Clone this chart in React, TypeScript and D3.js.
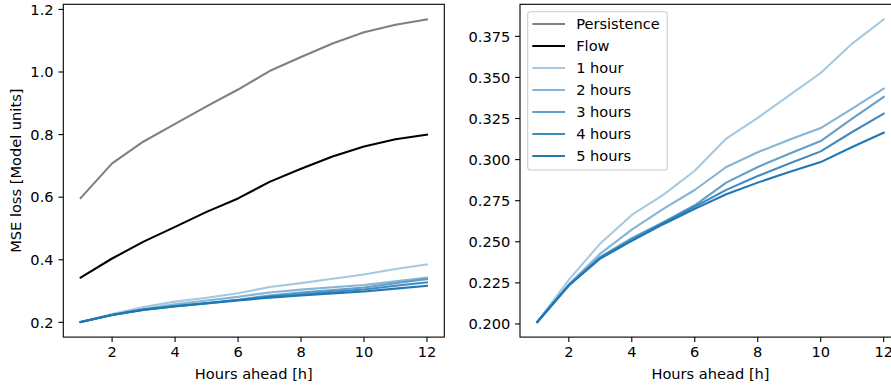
import React from "react";
import * as d3 from "d3";

const hours = [1, 2, 3, 4, 5, 6, 7, 8, 9, 10, 11, 12];
const persistence = [0.597, 0.708, 0.778, 0.834, 0.890, 0.944, 1.003, 1.048, 1.091, 1.127, 1.151, 1.168];
const flow = [0.343, 0.404, 0.458, 0.505, 0.553, 0.596, 0.649, 0.691, 0.730, 0.762, 0.785, 0.800];
const h1 = [0.2012, 0.2268, 0.2490, 0.2663, 0.2785, 0.2932, 0.3128, 0.3254, 0.3391, 0.3527, 0.3706, 0.3853];
const h2 = [0.2012, 0.2241, 0.2428, 0.2574, 0.2700, 0.2815, 0.2955, 0.3045, 0.3121, 0.3192, 0.3310, 0.3432];
const h3 = [0.2012, 0.2236, 0.2408, 0.2522, 0.2620, 0.2722, 0.2860, 0.2955, 0.3036, 0.3113, 0.3249, 0.3381];
const h4 = [0.2012, 0.2235, 0.2402, 0.2512, 0.2613, 0.2713, 0.2816, 0.2900, 0.2976, 0.3050, 0.3168, 0.3280];
const h5 = [0.2012, 0.2234, 0.2398, 0.2505, 0.2607, 0.2700, 0.2789, 0.2860, 0.2925, 0.2985, 0.3077, 0.3164];

const seriesNames = ["Persistence", "Flow", "1 hour", "2 hours", "3 hours", "4 hours", "5 hours"];
const seriesValues = [persistence, flow, h1, h2, h3, h4, h5];
const seriesColors = ["#808080", "#000000", "#1f77b4", "#1f77b4", "#1f77b4", "#1f77b4", "#1f77b4"];
const seriesOpacity = [1, 1, 0.4, 0.55, 0.7, 0.85, 1];

const xTicks = [2, 4, 6, 8, 10, 12];
const leftYTicks = [0.2, 0.4, 0.6, 0.8, 1.0, 1.2];
const rightYTicks = [0.2, 0.225, 0.25, 0.275, 0.3, 0.325, 0.35, 0.375];

const FONT = "DejaVu Sans";
const FS = 14.6;
const CAP = FS * 0.729;
const TICK = 4.86;
const PAD = 4.86;

function padded(lo: number, hi: number): [number, number] {
  const m = (hi - lo) * 0.05;
  return [lo - m, hi + m];
}

type PanelProps = {
  id: string;
  left: number;
  right: number;
  top: number;
  bottom: number;
  seriesIdx: number[];
  domainIdx: number[];
  yTicks: number[];
  yFmt: (v: number) => string;
  yLabel?: string;
  legend?: boolean;
};

function Panel(p: PanelProps) {
  const xDom = padded(d3.min(hours)!, d3.max(hours)!);
  const x = d3.scaleLinear().domain(xDom).range([p.left, p.right]);
  const allVals = p.domainIdx.flatMap((i) => seriesValues[i]);
  const yDom = padded(d3.min(allVals)!, d3.max(allVals)!);
  const y = d3.scaleLinear().domain(yDom).range([p.bottom, p.top]);
  const line = d3
    .line<number>()
    .x((_, i) => x(hours[i]))
    .y((v) => y(v));
  const w = p.right - p.left;
  const h = p.bottom - p.top;
  const legendX = p.left + 7.7;
  const legendY = p.top + 7.4;
  const rowH = 22;
  return (
    <g>
      <defs>
        <clipPath id={p.id}>
          <rect x={p.left} y={p.top} width={w} height={h} />
        </clipPath>
      </defs>
      <g clipPath={`url(#${p.id})`}>
        {p.seriesIdx.map((i) => (
          <path
            key={i}
            d={line(seriesValues[i]) || ""}
            fill="none"
            stroke={seriesColors[i]}
            strokeOpacity={seriesOpacity[i]}
            strokeWidth={2.08}
            strokeLinejoin="round"
            strokeLinecap="square"
          />
        ))}
      </g>
      <rect x={p.left} y={p.top} width={w} height={h} fill="none" stroke="#000" strokeWidth={1.1} />
      {xTicks.map((t) => (
        <g key={t}>
          <line x1={x(t)} x2={x(t)} y1={p.bottom} y2={p.bottom + TICK} stroke="#000" strokeWidth={1.1} />
          <text x={x(t)} y={p.bottom + TICK + PAD + CAP} textAnchor="middle" fontFamily={FONT} fontSize={FS} fill="#000">
            {t}
          </text>
        </g>
      ))}
      {p.yTicks.map((t) => (
        <g key={t}>
          <line x1={p.left - TICK} x2={p.left} y1={y(t)} y2={y(t)} stroke="#000" strokeWidth={1.1} />
          <text x={p.left - TICK - PAD} y={y(t) + CAP / 2} textAnchor="end" fontFamily={FONT} fontSize={FS} fill="#000">
            {p.yFmt(t)}
          </text>
        </g>
      ))}
      <text x={(p.left + p.right) / 2} y={379.3} textAnchor="middle" fontFamily={FONT} fontSize={FS} fill="#000">
        Hours ahead [h]
      </text>
      {p.yLabel && (
        <text
          transform={`translate(${20.5}, ${(p.top + p.bottom) / 2}) rotate(-90)`}
          textAnchor="middle"
          fontFamily={FONT}
          fontSize={FS}
          fill="#000"
        >
          {p.yLabel}
        </text>
      )}
      {p.legend && (
        <g>
          <rect
            x={legendX}
            y={legendY}
            width={139.6}
            height={158.3}
            rx={2.8}
            fill="#fff"
            fillOpacity={0.8}
            stroke="#cccccc"
            strokeWidth={1.1}
          />
          {seriesNames.map((name, i) => {
            const cy = legendY + 12.3 + i * rowH;
            return (
              <g key={name}>
                <line
                  x1={legendX + 4.6}
                  x2={legendX + 37.3}
                  y1={cy}
                  y2={cy}
                  stroke={seriesColors[i]}
                  strokeOpacity={seriesOpacity[i]}
                  strokeWidth={2.08}
                />
                <text x={legendX + 48.5} y={cy + CAP / 2} fontFamily={FONT} fontSize={FS} fill="#000">
                  {name}
                </text>
              </g>
            );
          })}
        </g>
      )}
    </g>
  );
}

export default function App() {
  return (
    <svg
      width={891}
      height={385}
      viewBox="0 0 891 385"
      style={{ position: "absolute", left: 0, top: 0, background: "#fff" }}
    >
      <rect width={891} height={385} fill="#fff" />
      <Panel
        id="clipL"
        left={63.3}
        right={444.3}
        top={4.3}
        bottom={337.1}
        seriesIdx={[0, 1, 2, 3, 4, 5, 6]}
        domainIdx={[0, 1, 2, 3, 4, 5, 6]}
        yTicks={leftYTicks}
        yFmt={(v) => v.toFixed(1)}
        yLabel="MSE loss [Model units]"
      />
      <Panel
        id="clipR"
        left={520}
        right={901}
        top={4.3}
        bottom={337.1}
        seriesIdx={[2, 3, 4, 5, 6]}
        domainIdx={[2, 3, 4, 5, 6]}
        yTicks={rightYTicks}
        yFmt={(v) => v.toFixed(3)}
        legend
      />
    </svg>
  );
}
